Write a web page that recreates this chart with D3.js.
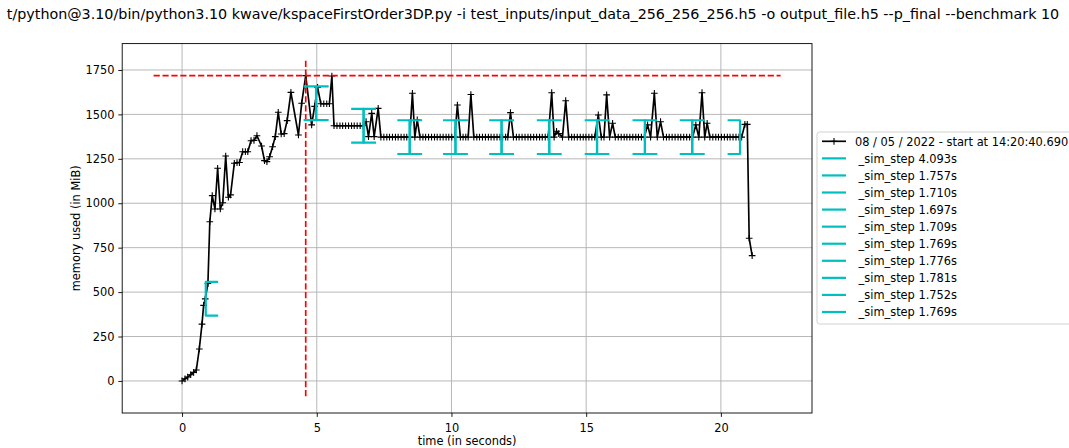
<!DOCTYPE html>
<html>
<head>
<meta charset="utf-8">
<script src="https://cdn.jsdelivr.net/npm/d3@7"></script>
<style>
  html, body { margin: 0; padding: 0; background: #ffffff; }
  svg { display: block; font-family: "DejaVu Sans", sans-serif; }
</style>
</head>
<body>
<svg id="chart" width="1069" height="448"></svg>
<script>
// ---------------- DATA ----------------
const titleText = "t/python@3.10/bin/python3.10 kwave/kspaceFirstOrder3DP.py -i test_inputs/input_data_256_256_256.h5 -o output_file.h5 --p_final --benchmark 10";
const memoryLabel = "08 / 05 / 2022 - start at 14:20:40.690";
const xAxisLabel = "time (in seconds)";
const yAxisLabel = "memory used (in MiB)";

// sample times (s)
const sampleTimes = [
  0.00, 0.11, 0.21, 0.32, 0.43, 0.53, 0.64, 0.74, 0.80, 0.86,
  0.96, 1.03, 1.12, 1.22, 1.32, 1.42, 1.51, 1.62, 1.72, 1.80,
  1.94, 2.04, 2.13, 2.25, 2.35, 2.44, 2.56, 2.67, 2.78, 2.95,
  3.06, 3.15, 3.25, 3.36, 3.46, 3.57, 3.68, 3.79, 3.90, 4.04,
  4.32, 4.44, 4.59, 4.81, 4.92, 5.03, 5.15, 5.26, 5.37, 5.47,
  5.56, 5.64, 5.75, 5.86, 5.96, 6.07, 6.18, 6.29, 6.39, 6.50,
  6.61, 6.72, 6.83, 6.92, 7.04, 7.13, 7.28, 7.38, 7.49, 7.60,
  7.70, 7.81, 7.92, 8.02, 8.13, 8.24, 8.34, 8.45, 8.55, 8.64,
  8.73, 8.83, 8.94, 9.04, 9.15, 9.26, 9.37, 9.47, 9.58, 9.69,
  9.80, 9.90, 10.01, 10.12, 10.22, 10.33, 10.43, 10.53, 10.62, 10.72,
  10.83, 10.94, 11.04, 11.15, 11.26, 11.37, 11.47, 11.58, 11.69, 11.80,
  11.90, 12.01, 12.09, 12.19, 12.30, 12.41, 12.51, 12.62, 12.73, 12.84,
  12.94, 13.05, 13.16, 13.27, 13.37, 13.48, 13.59, 13.72, 13.81, 13.90,
  13.98, 14.12, 14.24, 14.35, 14.46, 14.56, 14.67, 14.78, 14.89, 14.99,
  15.10, 15.21, 15.32, 15.45, 15.56, 15.66, 15.76, 15.87, 15.98, 16.08,
  16.19, 16.30, 16.41, 16.51, 16.62, 16.73, 16.84, 16.94, 17.05, 17.16,
  17.28, 17.39, 17.53, 17.64, 17.76, 17.87, 17.98, 18.08, 18.19, 18.30,
  18.41, 18.51, 18.62, 18.73, 18.84, 18.95, 19.07, 19.18, 19.30, 19.40,
  19.49, 19.59, 19.70, 19.81, 19.91, 20.02, 20.13, 20.24, 20.34, 20.45,
  20.56, 20.67, 20.77, 20.89, 20.98, 21.05, 21.16
];

// memory used (MiB) at each sample
const memoryMiB = [
  0, 12, 22, 35, 48, 62, 180, 320, 425, 462,
  548, 896, 1043, 968, 1197, 968, 1003, 1266, 1034, 1047,
  1225, 1229, 1229, 1290, 1290, 1290, 1352, 1354, 1380, 1322,
  1240, 1234, 1262, 1318, 1375, 1512, 1390, 1392, 1465, 1624,
  1384, 1563, 1718, 1441, 1545, 1652, 1560, 1560, 1560, 1560,
  1716, 1436, 1436, 1436, 1436, 1436, 1436, 1436, 1436, 1436,
  1436, 1436, 1459, 1375, 1506, 1375, 1534, 1372, 1372, 1372,
  1372, 1372, 1372, 1372, 1372, 1372, 1372, 1372, 1619, 1372,
  1469, 1372, 1372, 1372, 1372, 1372, 1372, 1372, 1372, 1372,
  1372, 1372, 1372, 1372, 1553, 1372, 1372, 1372, 1372, 1612,
  1372, 1372, 1372, 1372, 1372, 1372, 1372, 1372, 1372, 1372,
  1372, 1372, 1372, 1510, 1372, 1372, 1372, 1372, 1372, 1372,
  1372, 1372, 1372, 1372, 1372, 1372, 1372, 1622, 1372, 1405,
  1392, 1372, 1577, 1372, 1372, 1372, 1372, 1372, 1372, 1372,
  1372, 1372, 1372, 1497, 1372, 1372, 1610, 1372, 1450, 1372,
  1372, 1372, 1372, 1372, 1372, 1372, 1372, 1372, 1372, 1372,
  1441, 1372, 1619, 1372, 1459, 1372, 1372, 1372, 1372, 1372,
  1372, 1372, 1372, 1372, 1372, 1372, 1441, 1372, 1622, 1372,
  1450, 1372, 1372, 1372, 1372, 1372, 1372, 1372, 1372, 1372,
  1372, 1372, 1372, 1444, 1444, 803, 705
];

// _sim_step executions
const stepDurations = [4.093, 1.757, 1.710, 1.697, 1.709, 1.769, 1.776, 1.781, 1.752, 1.769];
const stepStarts    = [0.88, 4.98, 6.74, 8.45, 10.15, 11.86, 13.63, 15.40, 17.18, 18.94];
const stepStartMem  = [463, 1563, 1436, 1372, 1372, 1372, 1372, 1372, 1372, 1372];
const stepEndMem    = [1563, 1436, 1372, 1372, 1372, 1372, 1372, 1372, 1372, 1372];
const stepName = "_sim_step";

const xTicks = [0, 5, 10, 15, 20];
const yTicks = [0, 250, 500, 750, 1000, 1250, 1500, 1750];

// ---------------- LAYOUT / STYLE ----------------
const W = 1069, H = 448;
const plot = { left: 122.2, right: 812, top: 43.6, bottom: 413 };
const BLACK = "#000000", CYAN = "#00bfbf", RED = "#ff0000", GRID = "#b0b0b0";
const FONT = "DejaVu Sans, sans-serif";
const tickFont = 11.4;
const titleWidth = 1052;
const bracketHalfHeight = 95;   // MiB
const bracketArm = 0.42;        // s

const svg = d3.select("#chart");
svg.append("rect").attr("width", W).attr("height", H).attr("fill", "#fff");

function pad(ext, f) { const m = (ext[1] - ext[0]) * f; return [ext[0] - m, ext[1] + m]; }
const tExt = d3.extent(sampleTimes);
const mExt = d3.extent(memoryMiB);
const peakXExt = pad(tExt, 0.05);
const peakYExt = pad(mExt, 0.05);

const x = d3.scaleLinear().domain(pad(peakXExt, 0.05)).range([plot.left, plot.right]);
const y = d3.scaleLinear().domain(pad(peakYExt, 0.05)).range([plot.bottom, plot.top]);

// grid
const grid = svg.append("g");
grid.selectAll("line.gx").data(xTicks).join("line")
  .attr("x1", d => x(d)).attr("x2", d => x(d))
  .attr("y1", plot.top).attr("y2", plot.bottom)
  .attr("stroke", GRID).attr("stroke-width", 0.9);
grid.selectAll("line.gy").data(yTicks).join("line")
  .attr("y1", d => y(d)).attr("y2", d => y(d))
  .attr("x1", plot.left).attr("x2", plot.right)
  .attr("stroke", GRID).attr("stroke-width", 0.9);

// clip
svg.append("clipPath").attr("id", "plotclip").append("rect")
  .attr("x", plot.left).attr("y", plot.top)
  .attr("width", plot.right - plot.left).attr("height", plot.bottom - plot.top);
const inner = svg.append("g").attr("clip-path", "url(#plotclip)");

// memory line
const pts = sampleTimes.map((t, i) => [t, memoryMiB[i]]);
inner.append("path")
  .datum(pts)
  .attr("d", d3.line().x(d => x(d[0])).y(d => y(d[1])))
  .attr("fill", "none").attr("stroke", BLACK).attr("stroke-width", 1.67)
  .attr("stroke-linejoin", "round");
const ms = 3.35;
inner.selectAll("path.mk").data(pts).join("path")
  .attr("class", "mk")
  .attr("transform", d => `translate(${x(d[0])},${y(d[1])})`)
  .attr("d", `M${-ms},0H${ms}M0,${-ms}V${ms}`)
  .attr("stroke", BLACK).attr("stroke-width", 1.1).attr("fill", "none");

// peak lines
const peakIdx = d3.maxIndex(memoryMiB);
const peakVal = memoryMiB[peakIdx];
const peakT = sampleTimes[peakIdx];
inner.append("line")
  .attr("x1", x(peakXExt[0] + 0.001)).attr("x2", x(peakXExt[1] - 0.001))
  .attr("y1", y(peakVal)).attr("y2", y(peakVal))
  .attr("stroke", RED).attr("stroke-width", 1.67).attr("stroke-dasharray", "6.2,2.7");
inner.append("line")
  .attr("x1", x(peakT)).attr("x2", x(peakT))
  .attr("y1", y(peakYExt[0] + 0.001)).attr("y2", y(peakYExt[1] - 0.001))
  .attr("stroke", RED).attr("stroke-width", 1.67).attr("stroke-dasharray", "6.2,2.7");

// brackets
const bline = d3.line().x(d => x(d[0])).y(d => y(d[1]));
stepStarts.forEach((s, i) => {
  const e = s + stepDurations[i];
  const ms0 = stepStartMem[i], me = stepEndMem[i];
  const open = [[s + bracketArm, ms0 + bracketHalfHeight], [s, ms0 + bracketHalfHeight], [s, ms0 - bracketHalfHeight], [s + bracketArm, ms0 - bracketHalfHeight]];
  const close = [[e - bracketArm, me + bracketHalfHeight], [e, me + bracketHalfHeight], [e, me - bracketHalfHeight], [e - bracketArm, me - bracketHalfHeight]];
  [open, close].forEach(b => inner.append("path").attr("d", bline(b))
    .attr("fill", "none").attr("stroke", CYAN).attr("stroke-width", 2.2)
    .attr("stroke-linejoin", "round").attr("stroke-linecap", "square"));
});

// axes
const xAxis = svg.append("g").attr("transform", `translate(0,${plot.bottom})`)
  .call(d3.axisBottom(x).tickValues(xTicks).tickSize(3.9).tickPadding(7.2).tickFormat(d3.format("d")));
const yAxis = svg.append("g").attr("transform", `translate(${plot.left},0)`)
  .call(d3.axisLeft(y).tickValues(yTicks).tickSize(3.9).tickPadding(3.9).tickFormat(d3.format("d")));
[xAxis, yAxis].forEach(g => {
  g.attr("font-family", FONT).attr("font-size", tickFont);
  g.select(".domain").remove();
  g.selectAll(".tick line").attr("stroke", BLACK).attr("stroke-width", 0.9);
  g.selectAll(".tick text").attr("fill", BLACK);
});

// spines
svg.append("rect").attr("x", plot.left).attr("y", plot.top)
  .attr("width", plot.right - plot.left).attr("height", plot.bottom - plot.top)
  .attr("fill", "none").attr("stroke", BLACK).attr("stroke-width", 0.9);

// labels
svg.append("text").attr("x", (plot.left + plot.right) / 2).attr("y", 445)
  .attr("text-anchor", "middle").attr("font-family", FONT).attr("font-size", tickFont).text(xAxisLabel);
svg.append("text").attr("transform", `translate(80,${(plot.top + plot.bottom) / 2}) rotate(-90)`)
  .attr("text-anchor", "middle").attr("font-family", FONT).attr("font-size", tickFont).text(yAxisLabel);
const title = svg.append("text").attr("x", 533).attr("y", 19)
  .attr("text-anchor", "middle").attr("font-family", FONT).attr("font-size", 13.7).text(titleText);
{
  const w = title.node().getComputedTextLength();
  if (w > 0) title.attr("font-size", 13.7 * titleWidth / w);
}

// legend
const legendEntries = [{ label: memoryLabel, kind: "mem" }]
  .concat(stepDurations.map(d => ({ label: " " + stepName + " " + d.toFixed(3) + "s", kind: "step" })));
const lg = svg.append("g");
lg.append("rect").attr("x", 817).attr("y", 132).attr("width", 262).attr("height", 192)
  .attr("rx", 2.5).attr("fill", "#ffffff").attr("fill-opacity", 0.8)
  .attr("stroke", "#cccccc").attr("stroke-width", 0.9);
const rowY0 = 141.3, rowH = 17.07;
legendEntries.forEach((e, i) => {
  const cy = rowY0 + i * rowH;
  if (e.kind === "mem") {
    lg.append("line").attr("x1", 822).attr("x2", 846).attr("y1", cy).attr("y2", cy)
      .attr("stroke", BLACK).attr("stroke-width", 1.67);
    lg.append("path").attr("d", `M${834 - ms},${cy}H${834 + ms}M834,${cy - ms}V${cy + ms}`)
      .attr("stroke", BLACK).attr("stroke-width", 1.1);
  } else {
    lg.append("line").attr("x1", 822).attr("x2", 846).attr("y1", cy).attr("y2", cy)
      .attr("stroke", CYAN).attr("stroke-width", 2.2);
  }
  lg.append("text").attr("x", 855).attr("y", cy + 4.2)
    .attr("font-family", FONT).attr("font-size", tickFont).attr("xml:space", "preserve")
    .style("white-space", "pre").text(e.label);
});
</script>
</body>
</html>
